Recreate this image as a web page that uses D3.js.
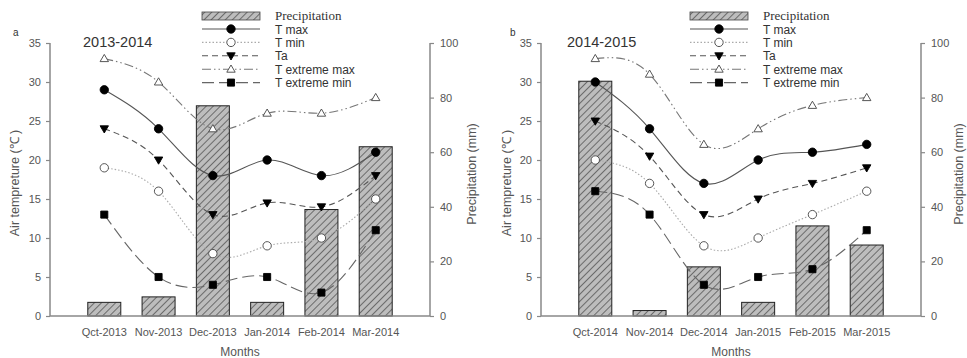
<!DOCTYPE html>
<html>
<head>
<meta charset="utf-8">
<script src="https://cdn.jsdelivr.net/npm/d3@7.9.0/dist/d3.min.js"></script>
<style>
  body { margin: 0; background: #fff; }
  svg { display: block; }
  text { font-family: "Liberation Sans", Arial, sans-serif; }
</style>
</head>
<body>
<svg id="chart" width="967" height="358"></svg>
<script>
// data
const monthsA = ['Qct-2013', 'Nov-2013', 'Dec-2013', 'Jan-2014', 'Feb-2014', 'Mar-2014'];
const monthsB = ['Qct-2014', 'Nov-2014', 'Dec-2014', 'Jan-2015', 'Feb-2015', 'Mar-2015'];

const precipA = [5, 7, 77, 5, 39, 62];
const tmaxA = [29, 24, 18, 20, 18, 21];
const tminA = [19, 16, 8, 9, 10, 15];
const taA = [24, 20, 13, 14.5, 14, 18];
const textMaxA = [33, 30, 24, 26, 26, 28];
const textMinA = [13, 5, 4, 5, 3, 11];

const precipB = [86, 2, 18, 5, 33, 26];
const tmaxB = [30, 24, 17, 20, 21, 22];
const tminB = [20, 17, 9, 10, 13, 16];
const taB = [25, 20.5, 13, 15, 17, 19];
const textMaxB = [33, 31, 22, 24, 27, 28];
const textMinB = [16, 13, 4, 5, 6, 11];

const tempTicks = [0, 5, 10, 15, 20, 25, 30, 35];
const precTicks = [0, 20, 40, 60, 80, 100];

const seriesStyle = [
  { name: 'T max', dash: null, color: '#555', marker: 'circle', fill: '#000' },
  { name: 'T min', dash: '1.5,2', color: '#aaa', marker: 'circle', fill: '#fff' },
  { name: 'Ta', dash: '6,4', color: '#555', marker: 'tridown', fill: '#000' },
  { name: 'T extreme max', dash: '9,3,1.5,3,1.5,3', color: '#777', marker: 'triup', fill: '#fff' },
  { name: 'T extreme min', dash: '12,5', color: '#666', marker: 'square', fill: '#000' }
];

const svg = d3.select('#chart');

// hatch pattern for the bars
const defs = svg.append('defs');
const pat = defs.append('pattern')
  .attr('id', 'hatch')
  .attr('patternUnits', 'userSpaceOnUse')
  .attr('width', 5).attr('height', 5)
  .attr('patternTransform', 'rotate(45)');
pat.append('rect').attr('width', 5).attr('height', 5).attr('fill', '#bdbdbd');
pat.append('line').attr('x1', 0).attr('y1', 0).attr('x2', 0).attr('y2', 5)
  .attr('stroke', '#333').attr('stroke-width', 1.2);

function markerPath(type) {
  if (type === 'circle') return d3.symbol(d3.symbolCircle, 55)();
  if (type === 'square') return d3.symbol(d3.symbolSquare, 50)();
  if (type === 'triup') return 'M0,-4.2L4.2,3L-4.2,3Z';
  return 'M0,4.2L4.2,-3L-4.2,-3Z';
}

function drawPanel(opt) {
  const g = svg.append('g').attr('transform', `translate(${opt.left},0)`);
  const w = 380, top = 43, bottom = 316;

  const x = d3.scalePoint().domain(opt.months).range([0, w]).padding(1);
  const yT = d3.scaleLinear().domain([0, 35]).range([bottom, top]);
  const yP = d3.scaleLinear().domain([0, 100]).range([bottom, top]);

  // bars
  g.selectAll('rect.bar')
    .data(opt.precip)
    .join('rect')
    .attr('class', 'bar')
    .attr('x', (d, i) => x(opt.months[i]) - 16.5)
    .attr('width', 33)
    .attr('y', d => yP(d))
    .attr('height', d => yP(0) - yP(d))
    .attr('fill', 'url(#hatch)')
    .attr('stroke', '#222')
    .attr('stroke-width', 1);

  // axes
  const axL = g.append('g').call(d3.axisLeft(yT).tickValues(tempTicks).tickSize(4).tickPadding(5));
  const axR = g.append('g').attr('transform', `translate(${w},0)`)
    .call(d3.axisRight(yP).tickValues(precTicks).tickSize(4).tickPadding(6));
  [axL, axR].forEach(a => {
    a.select('.domain').attr('stroke', '#888').attr('stroke-width', 1.5)
      .attr('d', `M0,${top}V${bottom}` );
    a.selectAll('line').attr('stroke', '#888').attr('stroke-width', 1.2);
    a.selectAll('text').attr('fill', '#555').style('font-size', '11px')
      .style('font-family', '"Liberation Sans", Arial, sans-serif');
  });
  g.append('line').attr('x1', 0).attr('x2', w).attr('y1', bottom).attr('y2', bottom)
    .attr('stroke', '#888').attr('stroke-width', 1.5);

  // month labels
  g.selectAll('text.month')
    .data(opt.months)
    .join('text')
    .attr('class', 'month')
    .attr('x', d => x(d))
    .attr('y', 336)
    .attr('text-anchor', 'middle')
    .attr('fill', '#555')
    .style('font-size', '11px')
    .text(d => d);

  g.append('text').attr('x', w / 2).attr('y', 356).attr('text-anchor', 'middle')
    .attr('fill', '#555').style('font-size', '12px').text('Months');

  g.append('text')
    .attr('transform', `translate(${opt.yLabelX},183) rotate(-90)`)
    .attr('text-anchor', 'middle').attr('fill', '#555').style('font-size', '12.5px')
    .text('Air tempreture (\u2103 )');

  g.append('text')
    .attr('transform', `translate(${w + opt.rLabelDx},174) rotate(-90)`)
    .attr('text-anchor', 'middle').attr('fill', '#555').style('font-size', '12.5px')
    .text('Precipitation (mm)');

  g.append('text').attr('x', opt.tagX).attr('y', 36).attr('fill', '#333')
    .style('font-size', '10px').text(opt.tag);
  g.append('text').attr('x', opt.titleX).attr('y', 47).attr('fill', '#333')
    .style('font-size', '14.5px').text(opt.title);

  // lines and markers
  const line = d3.line().curve(d3.curveNatural)
    .x((d, i) => x(opt.months[i])).y(d => yT(d));

  opt.temps.forEach((vals, k) => {
    const s = seriesStyle[k];
    g.append('path').datum(vals)
      .attr('d', line)
      .attr('fill', 'none')
      .attr('stroke', s.color)
      .attr('stroke-width', 1.1)
      .attr('stroke-dasharray', s.dash);
    g.selectAll(`path.m${k}`)
      .data(vals)
      .join('path')
      .attr('class', `m${k}`)
      .attr('transform', (d, i) => `translate(${x(opt.months[i])},${yT(d)})`)
      .attr('d', markerPath(s.marker))
      .attr('fill', s.fill)
      .attr('stroke', s.fill === '#fff' ? '#444' : '#000')
      .attr('stroke-width', 0.9);
  });

  // legend
  const lg = g.append('g').attr('transform', `translate(${opt.legendX},0)`);
  lg.append('rect').attr('x', 0).attr('y', 12).attr('width', 58).attr('height', 8)
    .attr('fill', 'url(#hatch)').attr('stroke', '#444').attr('stroke-width', 0.8);
  lg.append('text').attr('x', 73).attr('y', 20).attr('fill', '#333')
    .style('font-family', '"Liberation Serif", "Times New Roman", serif')
    .style('font-size', '13px').text('Precipitation');
  seriesStyle.forEach((s, k) => {
    const yy = 29 + k * 13.4;
    lg.append('line').attr('x1', 0).attr('x2', 58).attr('y1', yy).attr('y2', yy)
      .attr('stroke', s.color).attr('stroke-width', 1.1).attr('stroke-dasharray', s.dash);
    lg.append('path').attr('transform', `translate(29,${yy})`)
      .attr('d', markerPath(s.marker))
      .attr('fill', s.fill)
      .attr('stroke', s.fill === '#fff' ? '#444' : '#000')
      .attr('stroke-width', 0.9);
    lg.append('text').attr('x', 73).attr('y', yy + 4.5).attr('fill', '#333')
      .style('font-size', '12px').text(s.name);
  });
}

drawPanel({
  left: 50, months: monthsA, precip: precipA,
  temps: [tmaxA, tminA, taA, textMaxA, textMinA],
  tag: 'a', tagX: -37, title: '2013-2014', titleX: 33,
  yLabelX: -31, rLabelDx: 46, legendX: 152
});

drawPanel({
  left: 541, months: monthsB, precip: precipB,
  temps: [tmaxB, tminB, taB, textMaxB, textMinB],
  tag: 'b', tagX: -31, title: '2014-2015', titleX: 26,
  yLabelX: -30, rLabelDx: 42, legendX: 149
});
</script>
</body>
</html>
